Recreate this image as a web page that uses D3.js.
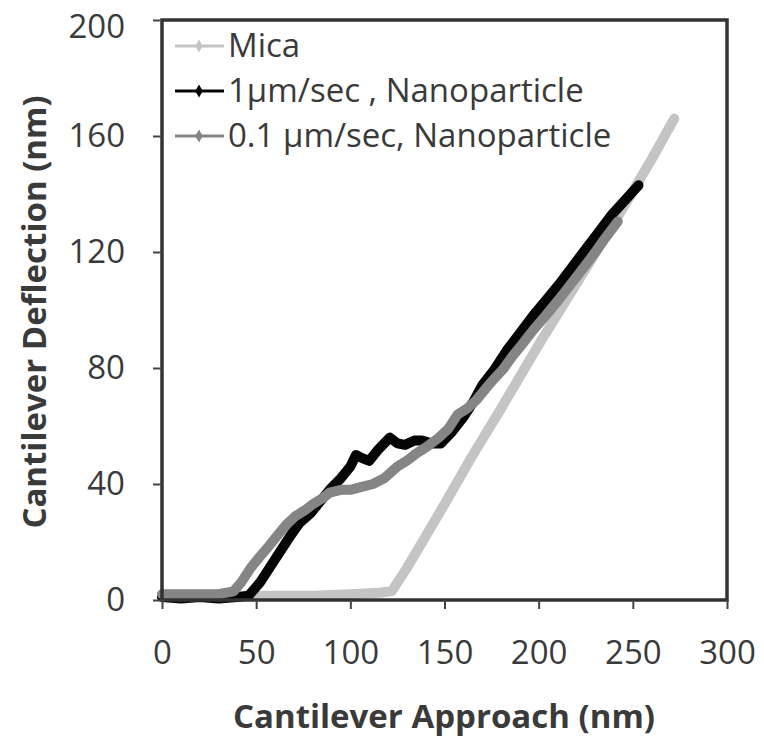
<!DOCTYPE html>
<html>
<head>
<meta charset="utf-8">
<script src="https://cdn.jsdelivr.net/npm/d3@7/dist/d3.min.js"></script>
<style>
  body { margin: 0; background: #fff; }
  svg text { font-family: "Open Sans", Lato, sans-serif; fill: #3a3a3a; }
</style>
</head>
<body>
<div id="chart"></div>
<script>
// approach distance (nm) / deflection (nm) for each curve
var micaX = [0, 20, 40, 60, 80, 100, 115, 122, 130, 140, 150, 165, 180, 200, 220, 240, 260, 272];
var micaY = [1, 1, 1.5, 1.5, 1.5, 2, 2.5, 3, 11, 22, 33, 50, 66, 88, 109, 130, 152, 166];

var fastX = [0, 10, 20, 30, 40, 46, 52, 57, 63, 68, 73, 79, 84, 89, 95, 100, 103, 106, 110, 115, 121, 125, 129, 134, 138, 143, 148, 154, 160, 165, 170, 176, 183, 190, 197, 204, 211, 218, 225, 232, 239, 246, 253];
var fastY = [1, 0.5, 1, 0.5, 1, 1.5, 6, 11, 17, 22, 26.5, 30, 34, 38, 42, 46, 50, 49, 48, 52, 56, 54, 53.5, 55, 55, 54, 54, 58, 63, 68, 74, 79, 86, 92, 98, 103.5, 109, 115, 121, 127, 133, 138, 143];

var slowX = [0, 10, 20, 30, 38, 42, 47, 52, 56, 61, 66, 71, 76, 80, 85, 89, 95, 100, 106, 112, 118, 125, 130, 135, 141, 147, 152, 157, 162, 167, 172, 176, 181, 186, 191, 197, 203, 210, 216, 222, 229, 235, 242];
var slowY = [2, 2, 2, 2, 3, 6, 11, 15, 18, 22, 26, 29, 31, 33, 35, 37, 38, 38, 39, 40, 42, 46, 48, 50.5, 53, 56, 59, 64, 66, 69, 73, 76, 79.5, 84, 88, 93, 97.5, 103, 108, 113, 119, 124.5, 130.5];

var seriesNames = ['Mica', '1\u00b5m/sec , Nanoparticle', '0.1 \u00b5m/sec, Nanoparticle'];
var seriesColors = ['#c4c4c4', '#050505', '#858585'];
var xTicks = [0, 50, 100, 150, 200, 250, 300];
var yTicks = [0, 40, 80, 120, 160, 200];

var W = 764, H = 739;
var svg = d3.select('#chart').append('svg')
  .attr('width', W)
  .attr('height', H);

var x = d3.scaleLinear().domain([0, 300]).range([162, 727]);
var y = d3.scaleLinear().domain([0, 200]).range([600, 20]);

var series = [
  { xs: micaX, ys: micaY },
  { xs: fastX, ys: fastY },
  { xs: slowX, ys: slowY }
];

var line = d3.line()
  .x(function(d) { return x(d[0]); })
  .y(function(d) { return y(d[1]); });

// curves first, frame on top
var curves = svg.append('g');
series.forEach(function(s, i) {
  curves.append('path')
    .datum(d3.zip(s.xs, s.ys))
    .attr('d', line)
    .attr('fill', 'none')
    .attr('stroke', seriesColors[i])
    .attr('stroke-width', 10)
    .attr('stroke-linejoin', 'round')
    .attr('stroke-linecap', 'round');
});

// frame
svg.append('rect')
  .attr('x', 162).attr('y', 20)
  .attr('width', 565).attr('height', 580)
  .attr('fill', 'none')
  .attr('stroke', '#333')
  .attr('stroke-width', 3.5);

var xAxis = svg.append('g')
  .attr('transform', 'translate(0,600)')
  .call(d3.axisBottom(x).tickValues(xTicks).tickSize(9).tickPadding(32).tickFormat(d3.format('d')));
var yAxis = svg.append('g')
  .attr('transform', 'translate(162,0)')
  .call(d3.axisLeft(y).tickValues(yTicks).tickSize(9).tickPadding(28).tickFormat(d3.format('d')));

[xAxis, yAxis].forEach(function(a) {
  a.select('.domain').remove();
  a.selectAll('line').attr('stroke', '#444').attr('stroke-width', 2);
  a.selectAll('text')
    .attr('font-size', 33)
    .style('font-family', '"Open Sans", sans-serif')
    .attr('fill', '#3a3a3a');
});
// keep the top label inside the page
yAxis.selectAll('.tick text').filter(function(d) { return d === 200; }).attr('dy', '0.52em');

// axis titles
svg.append('text')
  .attr('x', 444).attr('y', 728)
  .attr('text-anchor', 'middle')
  .attr('font-size', 33)
  .attr('font-weight', 'bold')
  .text('Cantilever Approach (nm)');

svg.append('text')
  .attr('transform', 'translate(46,312) rotate(-90)')
  .attr('text-anchor', 'middle')
  .attr('font-size', 33)
  .attr('font-weight', 'bold')
  .text('Cantilever Deflection (nm)');

// legend
var legend = svg.append('g');
var legY = [46, 91, 136];
seriesNames.forEach(function(name, i) {
  var g = legend.append('g').attr('transform', 'translate(0,' + legY[i] + ')');
  g.append('line')
    .attr('x1', 175).attr('x2', 224)
    .attr('stroke', seriesColors[i])
    .attr('stroke-width', 3);
  g.append('path')
    .attr('d', d3.symbol().type(d3.symbolDiamond).size(50))
    .attr('transform', 'translate(199,0)')
    .attr('fill', seriesColors[i]);
  g.append('text')
    .attr('x', 228).attr('y', 11)
    .attr('font-size', 33)
    .text(name);
});
</script>
</body>
</html>
